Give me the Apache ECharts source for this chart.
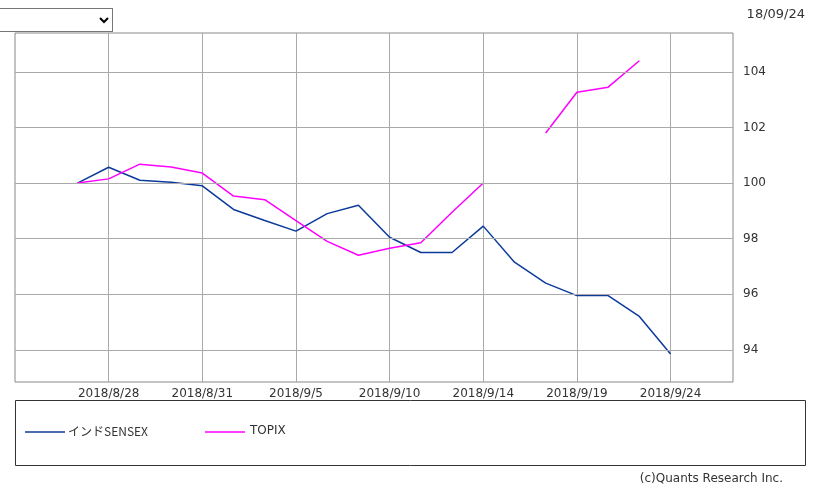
<!DOCTYPE html>
<html><head><meta charset="utf-8">
<script src="https://cdn.jsdelivr.net/npm/echarts@6/dist/echarts.min.js"></script>
<style>body{margin:0;background:#fff}#c{width:813px;height:493px}
select{position:absolute;left:-2px;top:8px;width:115px;height:24px;border:1px solid #777;background:#fff}</style>
</head><body>
<select><option></option></select>
<div id="c"></div>
<script>
const categories=['','','8/27','2018/8/28','8/29','8/30','2018/8/31','9/3','9/4','2018/9/5','9/6','9/7','2018/9/10','9/11','9/12','2018/9/14','9/17','9/18','2018/9/19','9/20','9/21','2018/9/24','',''];
const sensex=[null,null,100,100.57,100.1,100.03,99.9,99.05,98.65,98.27,98.9,99.2,98.05,97.5,97.5,98.45,97.15,96.4,95.95,95.95,95.2,93.85,null,null];
const topix=[null,null,100,100.15,100.68,100.58,100.36,99.53,99.4,98.65,97.9,97.4,97.65,97.85,98.95,100,null,101.8,103.27,103.45,104.4,null,null,null];
const yTicks=[94,96,98,100,102,104];
const chart=echarts.init(document.getElementById('c'));
const txt={fontFamily:'DejaVu Sans',fontSize:12,color:'#333'};
chart.setOption({
  animation:false,
  grid:{left:15,right:80,top:33,bottom:111,show:true,borderColor:'#888',borderWidth:1},
  xAxis:{type:'category',data:categories,boundaryGap:false,
    axisLine:{show:false},axisTick:{show:false},
    axisLabel:Object.assign({interval:(i)=>i%3===0&&i>0&&i<22,formatter:v=>v,margin:6},txt),
    splitLine:{show:true,interval:(i)=>i%3===0&&i>0&&i<22,lineStyle:{color:'#aaa'}}},
  yAxis:{type:'value',position:'right',min:92.84,max:105.4,
    axisLine:{show:false},axisTick:{show:false},axisLabel:{show:false},splitLine:{show:false}},
  series:[
    {type:'line',data:sensex,symbol:'none',lineStyle:{color:'#0b3a9b',width:1.5},itemStyle:{color:'#0b3a9b'},
     markLine:{silent:true,symbol:'none',
       label:{show:true,position:'end',distance:10,formatter:p=>String(p.value),fontFamily:'DejaVu Sans',fontSize:12,color:'#333'},
       lineStyle:{color:'#aaa',type:'solid',width:1},data:yTicks.map(v=>({yAxis:v}))}},
    {type:'line',data:topix,symbol:'none',lineStyle:{color:'#ff00ff',width:1.5},itemStyle:{color:'#ff00ff'}}
  ],
  graphic:[
    {type:'rect',shape:{x:15.5,y:400.5,width:790,height:65},style:{fill:'none',stroke:'#333',lineWidth:1}},
    {type:'line',shape:{x1:25,y1:432,x2:65,y2:432},style:{stroke:'#0b3a9b',lineWidth:1.5}},
    {type:'text',left:68,top:425,style:{text:'インドSENSEX',fill:'#333',font:'12px "Noto Sans CJK JP"'}},
    {type:'line',shape:{x1:205,y1:432,x2:245,y2:432},style:{stroke:'#ff00ff',lineWidth:1.5}},
    {type:'text',left:250,top:425,style:{text:'TOPIX',fill:'#333',font:'12px "DejaVu Sans"'}},
    {type:'text',right:8,top:8,style:{text:'18/09/24',fill:'#333',font:'13px "DejaVu Sans"'}},
    {type:'text',right:30,top:473,style:{text:'(c)Quants Research Inc.',fill:'#333',font:'12px "DejaVu Sans"'}}
  ]
});
</script></body></html>
